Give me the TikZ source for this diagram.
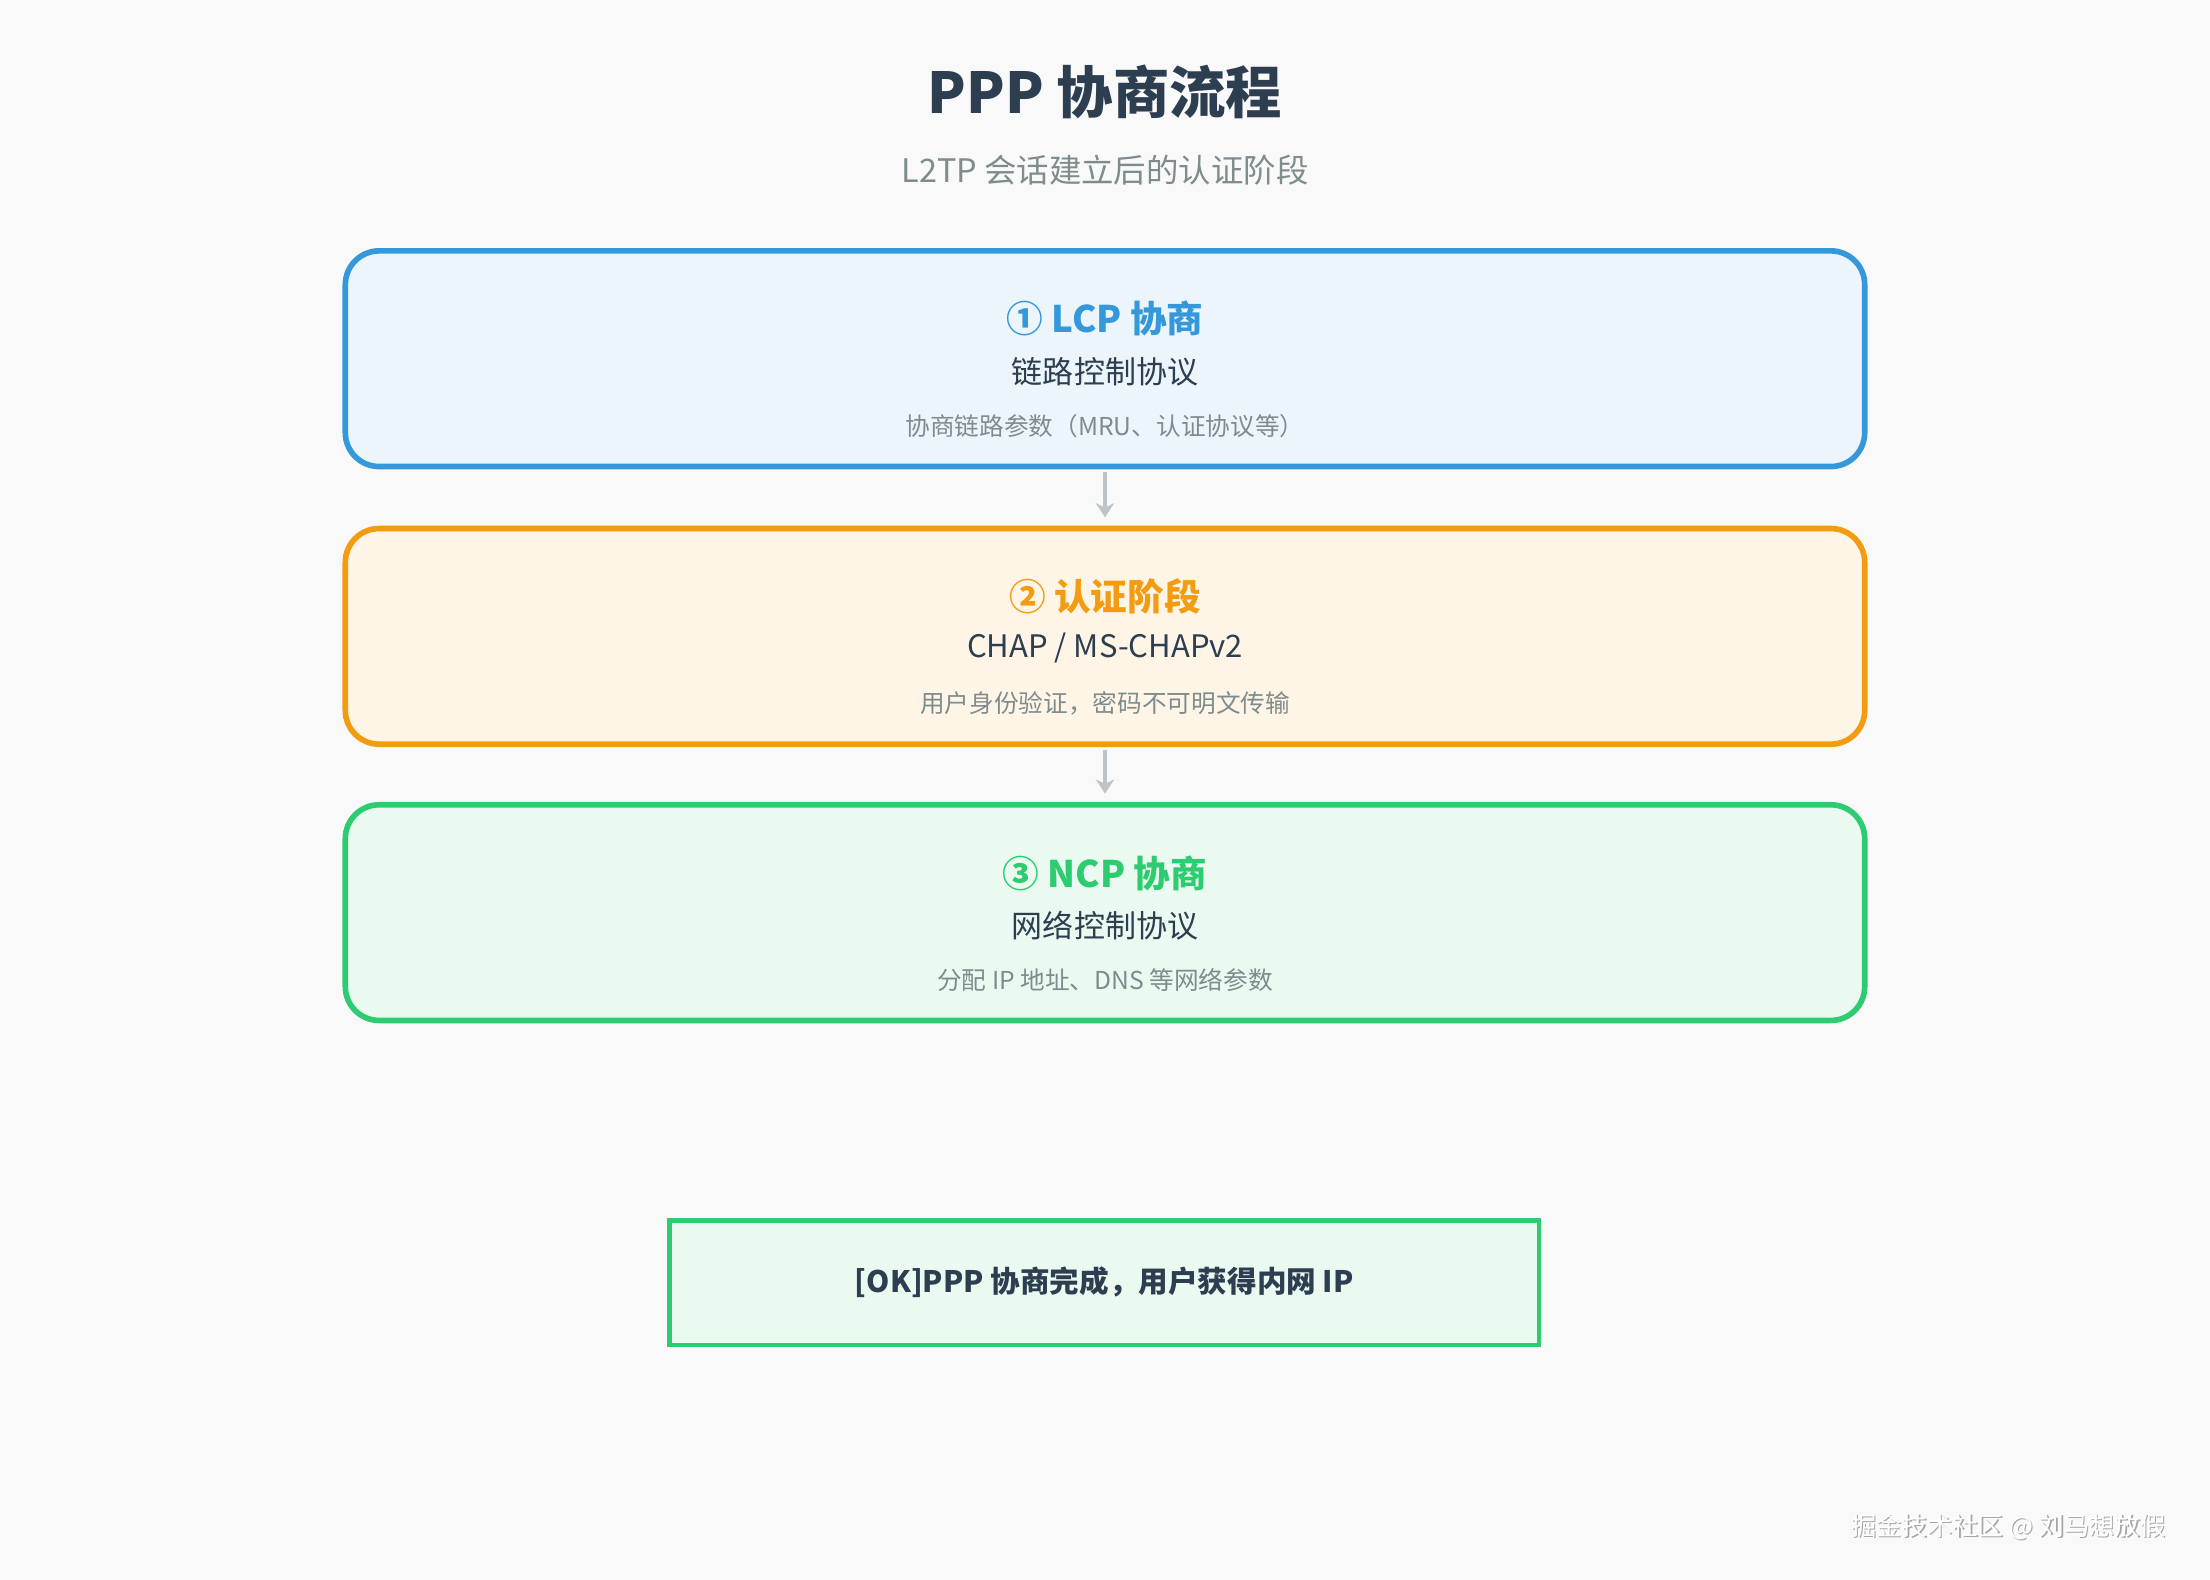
\documentclass[tikz,border=0pt]{standalone}
\usetikzlibrary{arrows.meta}
\usepackage{fontspec}
\setmainfont{Noto Sans CJK SC}
\definecolor{bg}{HTML}{F9F9F9}
\definecolor{dark}{HTML}{2C3E50}
\definecolor{grayt}{HTML}{7F8C8D}
\definecolor{arr}{HTML}{BDC3C7}
\definecolor{cblue}{HTML}{3498DB}\definecolor{fblue}{HTML}{EBF5FB}
\definecolor{corange}{HTML}{F39C12}\definecolor{forange}{HTML}{FEF5E7}
\definecolor{cgreen}{HTML}{2ECC71}\definecolor{fgreen}{HTML}{EAFAF1}
\begin{document}
\begin{tikzpicture}[x=1pt,y=-1pt,
  stage/.style={draw=#1,line width=4pt,rounded corners=24pt,minimum width=1078pt,minimum height=153pt},
  ttl/.style={font=\fontsize{26}{30}\selectfont\bfseries},
  sub/.style={font=\fontsize{22}{26}\selectfont,text=dark},
  desc/.style={font=\fontsize{17.5}{20}\selectfont,text=grayt},
  conn/.style={draw=arr,line width=3pt,-{Stealth[length=10pt,width=13pt]}}]
\fill[bg] (0,0) rectangle (1568,1121);
\useasboundingbox (0,0) rectangle (1568,1121);
\node[font=\fontsize{40}{46}\selectfont\bfseries,text=dark] (title) at (784,65) {PPP 协商流程};
\node[font=\fontsize{23}{27}\selectfont,text=grayt] (subt) at (784,121) {L2TP 会话建立后的认证阶段};
\node[stage=cblue,fill=fblue] (b1) at (784,254.5) {};
\node[stage=corange,fill=forange] (b2) at (784,451.5) {};
\node[stage=cgreen,fill=fgreen] (b3) at (784,647.5) {};
\node[ttl,text=cblue] (t1) at (784,226) {① LCP 协商};
\node[sub] (s1) at (784,264) {链路控制协议};
\node[desc] (d1) at (784,302) {协商链路参数（MRU、认证协议等）};
\node[ttl,text=corange] (t2) at (784,423) {② 认证阶段};
\node[sub] (s2) at (784,460) {CHAP / MS-CHAPv2};
\node[desc] (d2) at (784,499) {用户身份验证，密码不可明文传输};
\node[ttl,text=cgreen] (t3) at (784,620) {③ NCP 协商};
\node[sub] (s3) at (784,657) {网络控制协议};
\node[desc] (d3) at (784,695) {分配 IP 地址、DNS 等网络参数};
\draw[conn] ([yshift=-2pt]b1.south) -- ([yshift=6pt]b2.north);
\draw[conn] ([yshift=-2pt]b2.south) -- ([yshift=6pt]b3.north);
\node[draw=cgreen,fill=fgreen,line width=3pt,minimum width=617pt,minimum height=88pt,
  font=\fontsize{21}{25}\selectfont\bfseries,text=dark] (ok) at (783.5,910) {[OK]PPP 协商完成，用户获得内网 IP};
\node[font=\fontsize{18}{22}\selectfont,text=gray!70,anchor=east] (wmS) at (1541,1084) {掘金技术社区 @ 刘马想放假};
\node[font=\fontsize{18}{22}\selectfont,text=white,anchor=east] (wm) at (1540,1083) {掘金技术社区 @ 刘马想放假};
\end{tikzpicture}
\end{document}
